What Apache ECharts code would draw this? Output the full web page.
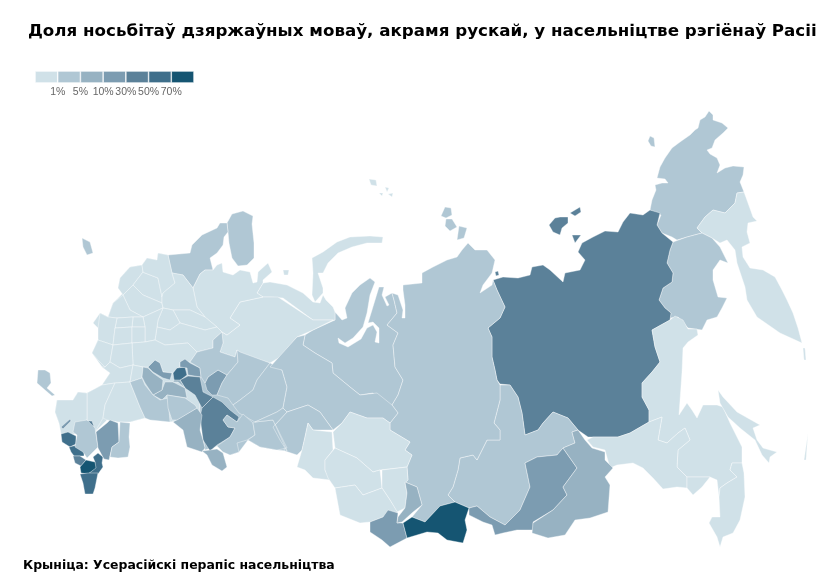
<!DOCTYPE html>
<html>
<head>
<meta charset="utf-8">
<style>html,body{margin:0;background:#fff}#chart{width:840px;height:587px}</style>
<script src="https://cdn.jsdelivr.net/npm/echarts@6/dist/echarts.min.js"></script>
</head>
<body>
<div id="chart"></div>
<script>
const titleText = 'Доля носьбітаў дзяржаўных моваў, акрамя рускай, у насельніцтве рэгіёнаў Расіі';
const sourceText = 'Крыніца: Усерасійскі перапіс насельніцтва';
const legendLabels = ['1%', '5%', '10%', '30%', '50%', '70%'];
const classLimits = [1, 5, 10, 30, 50, 70];
const classColors = ['#d0e1e8', '#b0c7d4', '#97b2c2', '#7c9cb1', '#5b8199', '#3f6f8b', '#155572'];

const regionNames = [
  'Еўрапейская частка', 'Урал', 'Чукотка', 'Востраў Урангеля', 'Камчатка', 'Магадан', 'Якуція', 'Хабараўск', 'Амур', 'Яўрэйская АВ',
  'Прымор\'е', 'Сахалін', 'Курылы', 'Іркуцк', 'Бурація', 'Забайкалле', 'Ямал', 'Краснаярск', 'Паўночная Зямля', 'Новая Зямля',
  'Зямля Франца-Іосіфа', 'Калгуеў', 'Мурманск', 'Карэлія', 'Ненцы', 'Комі', 'Архангельск', 'Ленінград', 'Ноўгарад', 'Пскоў',
  'Цвер', 'Смаленск', 'Волагда', 'Кастрама', 'Яраслаўль', 'Уладзімір', 'Масква', 'Калуга', 'Браянск', 'Арол',
  'Курск', 'Тула', 'Разань', 'Варонеж', 'Белгарад', 'Тамбоў', 'Тамбоў 2', 'Ліпецк', 'Растоў', 'Мардовія',
  'Чувашыя', 'Марый Эл', 'Татарстан', 'Удмуртыя', 'Башкартастан', 'Кіраў', 'Перм', 'Свярдлоўск', 'ХМАА', 'Цюмень',
  'Омск', 'Томск', 'Новасібірск', 'Кемерава', 'Алтайскі край', 'Рэспубліка Алтай', 'Хакасія', 'Тыва', 'Ульянаўск', 'Пенза',
  'Саратаў', 'Арэнбург', 'Чэлябінск', 'Курган', 'Краснадарскі край', 'Карачаева-Чаркесія', 'Валгаград', 'Астрахань', 'Самара', 'Самарская лука',
  'Адыгея', 'Крым', 'Кабардзіна-Балкарыя', 'Стаўрапаль', 'Паўночная Асеція', 'Інгушэція', 'Чачня', 'Дагестан', 'Калмыкія', 'Ніжняя Волга',
  'Азоўскі бераг', 'Калінінград'
];
const regionValues = [
  0.3, 2, 3, 3, 0.7, 2, 38, 0.5, 0.4, 0.3,
  0.4, 0.7, 0.7, 3, 22, 8, 3, 3, 3, 0.5,
  0.5, 0.5, 3, 3, 0.8, 0.8, 0.5, 0.3, 0.3, 0.3,
  0.4, 0.3, 0.3, 0.3, 0.3, 0.3, 0.3, 0.3, 0.3, 0.3,
  0.3, 0.3, 0.3, 0.3, 0.3, 0.3, 0.3, 0.3, 0.3, 25,
  55, 25, 45, 28, 40, 3, 3, 3, 3, 3,
  0.8, 0.7, 0.5, 0.5, 0.6, 25, 7, 75, 8, 8,
  3, 3, 3, 3, 0.4, 60, 8, 8, 3, 8,
  40, 3, 60, 3, 40, 60, 90, 60, 25, 3,
  25, 3
];

// region outlines, x y pairs per ring, ' | ' between rings
const regionOutlines = {
  'Еўрапейская частка': '168 255 158 253 157 260 147 258 142 265 130 267 120 278 118 288 123 293 113 303 108 317 100 313 93 323 98 328 98 340 92 353 102 367 110 373 102 385 87 393 78 392 73 400 57 400 55 412 59 423 62 428 75 430 87 420 95 432 107 420 130 422 145 418 170 422 200 417 200 350 222 332 193 288 183 275',
  'Урал': '200 350 222 332 237 350 270 363 282 370 287 387 283 408 287 412 273 427 287 451 277 450 260 447 248 440 239 452 230 455 217 446 205 450 200 417',
  'Чукотка': '709 111 713 115 713 120 722 123 728 128 723 133 715 140 712 148 707 150 710 154 717 158 720 165 717 173 725 168 733 166 744 167 743 175 740 182 744 192 737 193 735 203 725 213 713 210 705 217 697 228 702 233 687 237 677 240 672 237 662 233 657 225 661 215 650 210 652 200 656 190 655 185 662 183 668 183 665 179 657 178 660 167 665 158 672 148 680 142 690 135 695 130 698 128 700 120 705 117',
  'Востраў Урангеля': '650 136 654 138 655 147 651 146 648 141',
  'Камчатка': '697 228 705 217 713 210 725 213 735 203 737 193 744 192 748 203 753 217 757 221 748 223 747 232 750 243 742 247 743 257 750 268 763 270 775 277 782 290 787 300 793 313 798 328 802 343 780 333 757 317 747 300 745 287 737 263 735 250 727 240 720 243 712 238 702 233',
  'Магадан': '673 242 687 237 702 233 712 238 720 247 728 263 720 260 713 270 713 280 718 297 727 298 722 308 717 317 707 320 702 330 688 328 678 317 670 318 671 313 665 308 659 300 663 288 672 282 673 273 667 263 670 250',
  'Якуція': '650 210 660 213 657 225 662 233 673 242 670 250 667 263 673 273 672 282 663 288 659 300 665 308 671 313 670 320 652 330 655 347 660 362 652 372 642 383 642 397 649 410 649 422 630 433 618 437 588 437 578 430 568 418 553 412 543 423 538 430 525 435 522 413 518 397 510 385 500 384 497 380 495 370 492 357 492 337 488 328 500 318 505 307 497 290 493 280 503 277 518 278 530 275 532 267 543 265 550 270 563 282 565 273 580 270 585 260 578 252 582 243 593 237 605 231 618 232 623 222 630 213 643 215 | 549 225 555 218 560 217 568 217 568 223 562 228 560 235 553 232 | 570 213 580 207 581 212 575 216 | 572 235 581 235 575 243 | 495 272 498 271 499 275 496 276',
  'Хабараўск': '670 320 675 316 683 320 688 329 697 329 698 335 688 342 683 348 682 372 679 415 687 403 692 410 697 418 703 405 717 405 723 407 730 423 742 447 742 463 732 463 730 470 737 477 727 483 720 488 719 497 717 480 710 477 687 477 677 467 678 450 690 440 685 428 678 433 667 443 658 440 662 417 649 422 649 410 642 397 642 383 652 372 660 362 655 347 652 330',
  'Амур': '593 437 618 437 630 433 649 422 662 417 658 440 667 443 678 433 685 428 690 440 678 450 677 467 687 477 687 488 677 487 663 489 653 478 643 468 633 463 617 465 610 468 605 450 593 447 587 440',
  'Яўрэйская АВ': '687 477 710 477 702 487 693 495 687 488',
  'Прымор\'е': '719 497 720 488 727 483 737 477 730 470 732 463 742 463 744 473 745 497 740 520 733 533 723 537 720 547 717 537 709 523 712 517 720 517',
  'Сахалін': '718 390 723 397 737 412 760 425 753 428 757 440 763 448 777 452 770 457 769 463 762 455 755 440 740 428 728 417 720 403',
  'Курылы': '803 348 805 348 806 360 804 360 | 808 433 809 433 806 460 804 460',
  'Іркуцк': '500 385 510 385 518 397 522 413 525 435 538 430 543 423 553 412 568 418 578 430 572 432 575 443 563 448 557 455 537 457 525 463 530 487 520 510 505 525 490 517 477 506 469 508 455 502 448 495 453 487 458 470 460 458 473 455 477 460 487 440 500 440 500 430 494 423 500 400',
  'Бурація': '525 463 537 457 557 455 563 448 577 468 563 487 567 495 553 510 533 522 533 530 517 530 503 533 495 535 492 525 483 522 469 515 469 508 477 506 490 517 505 525 520 510 530 487',
  'Забайкалле': '572 432 578 430 585 440 592 448 605 452 605 460 613 468 605 477 610 485 608 512 590 518 575 520 565 535 548 538 532 533 533 523 553 510 567 495 563 487 577 468 563 448 575 443',
  'Ямал': '335 312 342 320 347 318 345 308 352 293 360 285 370 278 375 282 370 295 367 313 363 327 353 338 345 343 338 338 339 343 348 347 361 339 367 328 373 325 377 332 375 342 379 343 379 328 373 322 368 323 372 310 379 287 384 287 382 295 387 306 389 305 385 297 392 293 394 300 397 313 387 325 398 333 393 345 395 367 403 380 398 395 392 405 398 413 383 403 373 393 360 395 350 387 333 373 332 363 315 353 303 345 305 335 313 330 335 320',
  'Краснаярск': '394 300 392 293 398 295 403 310 402 318 405 318 405 305 403 290 403 285 422 283 422 273 433 267 447 260 457 257 462 250 468 243 475 250 487 250 495 260 492 273 483 285 480 293 492 285 493 280 497 290 505 307 500 318 488 328 492 337 492 357 495 370 497 380 500 385 500 400 494 423 500 430 500 440 487 440 477 460 473 455 460 458 458 470 453 487 448 495 455 502 440 506 425 522 412 517 422 505 417 487 405 482 408 480 407 467 412 455 405 450 410 442 390 430 390 423 398 413 392 405 398 395 403 380 395 367 393 345 398 333 387 325 397 313',
  'Паўночная Зямля': '445 207 451 208 452 215 446 218 441 216 | 446 219 452 219 457 227 450 231 445 226 | 459 226 467 228 464 238 457 240',
  'Новая Зямля': '312 258 323 252 337 242 350 237 370 236 383 237 382 243 367 243 352 247 338 253 328 263 323 273 318 273 323 288 323 293 315 302 312 295 313 273',
  'Зямля Франца-Іосіфа': '369 179 376 180 377 186 371 185 | 385 187 389 188 387 192 | 388 194 393 193 392 197 | 379 193 383 193 382 196',
  'Калгуеў': '283 270 289 270 288 275 284 275',
  'Мурманск': '227 223 232 214 243 211 253 216 252 224 254 243 254 258 247 265 238 266 232 258 229 243 228 232',
  'Карэлія': '168 255 190 253 192 245 202 235 217 228 220 223 227 223 228 232 224 237 223 245 217 253 210 258 213 270 205 270 200 274 193 288 183 275 172 273',
  'Ненцы': '263 283 270 282 287 285 297 290 303 293 313 302 320 303 323 295 326 300 333 307 335 312 335 320 313 320 283 298 270 297 263 297 257 293',
  'Комі': '240 302 263 297 278 297 313 320 333 320 313 330 297 337 280 357 270 363 243 355 237 350 235 357 220 352 223 343 222 332 227 335 240 325 230 318',
  'Архангельск': '193 288 200 274 205 270 213 270 217 265 222 263 223 272 233 275 240 270 250 272 253 283 257 282 258 272 268 263 272 272 263 280 263 283 257 293 263 297 240 302 230 318 240 325 227 335 222 332 217 327 205 317 197 307',
  'Ленінград': '120 278 130 267 142 265 143 272 133 285 123 295 118 288',
  'Ноўгарад': '133 285 143 272 145 273 158 278 162 297 162 303 143 295',
  'Пскоў': '123 295 133 285 143 295 162 303 163 308 143 317 130 310',
  'Цвер': '142 265 147 258 157 260 158 253 168 255 172 273 175 283 163 293 162 297 158 278 145 273 143 272',
  'Смаленск': '108 317 113 303 123 295 130 310 143 317 133 317 117 318',
  'Волагда': '163 293 175 283 172 273 183 275 193 288 197 307 205 317 190 310 173 310 163 308 162 303 162 297',
  'Кастрама': '173 310 190 310 205 317 217 327 205 330 180 323',
  'Яраслаўль': '163 308 173 310 180 323 170 330 157 327 158 320',
  'Уладзімір': '157 327 170 330 180 323 205 330 217 327 222 332 213 340 213 348 197 352 188 343 165 345 155 340',
  'Масква': '143 317 163 308 158 320 157 327 155 340 145 342 145 327',
  'Калуга': '133 317 143 317 145 327 132 327',
  'Браянск': '117 318 133 317 132 327 115 328',
  'Арол': '98 328 100 313 108 317 117 318 115 328 113 345 98 340',
  'Курск': '115 328 132 327 132 343 113 345',
  'Тула': '132 327 145 327 145 342 132 343',
  'Разань': '145 342 155 340 165 345 188 343 197 352 190 362 180 362 180 367 177 368 173 373 163 372 160 363 155 360 148 367 143 367 133 365 132 343',
  'Варонеж': '92 353 98 340 113 345 110 362 105 367 98 360',
  'Белгарад': '113 345 132 343 133 365 120 368 110 362',
  'Тамбоў': '102 385 110 373 102 367 105 367 110 362 120 368 133 365 130 382 115 383',
  'Тамбоў 2': '133 365 143 367 142 378 130 382',
  'Ліпецк': '87 393 102 385 115 383 105 405 103 418 95 432 87 420',
  'Растоў': '115 383 130 382 140 407 145 418 130 422 118 422 107 420 103 418 105 405',
  'Мардовія': '148 367 155 360 160 363 163 372 172 373 170 380 163 378 153 372',
  'Чувашыя': '173 373 177 368 185 367 187 375 178 382 174 380',
  'Марый Эл': '180 362 185 359 190 363 200 368 201 377 188 375 187 368 180 367',
  'Татарстан': '180 380 188 376 200 377 203 392 213 397 202 408 195 395 185 388',
  'Удмуртыя': '205 383 208 377 218 370 227 375 222 383 217 395 212 395 207 390',
  'Башкартастан': '202 408 213 397 222 402 230 410 239 417 237 422 227 415 223 420 228 427 235 428 230 437 217 445 210 451 203 440 200 417',
  'Кіраў': '190 362 197 352 213 348 213 340 222 332 223 343 220 352 235 357 237 350 238 362 227 375 218 370 208 377 205 383 201 377 200 368',
  'Перм': '237 350 240 352 270 363 257 380 253 390 240 400 233 405 228 398 217 395 222 383 227 375 238 362',
  'Свярдлоўск': '270 363 282 370 287 387 283 408 277 412 255 422 239 413 233 405 240 400 253 390 257 380',
  'ХМАА': '270 367 297 337 305 335 303 345 315 353 332 363 333 373 350 387 360 395 377 393 392 405 398 413 390 423 383 418 367 418 350 412 342 423 333 430 320 412 308 405 287 412 283 408 287 387 282 370',
  'Цюмень': '273 427 287 412 308 405 320 412 333 430 313 430 308 423 305 437 302 450 297 455 285 451 280 440',
  'Омск': '308 423 313 430 332 432 333 450 325 460 325 470 330 480 313 478 305 470 297 467 302 450 305 437',
  'Томск': '350 412 367 418 383 418 390 423 390 430 410 442 405 450 412 455 407 467 380 470 373 472 357 458 335 448 333 432 342 423',
  'Новасібірск': '335 448 357 458 373 472 380 470 382 488 363 495 355 485 335 488 328 478 325 470 325 460',
  'Кемерава': '382 470 407 467 408 480 405 483 407 493 405 508 397 512 390 500 382 488',
  'Алтайскі край': '335 488 355 485 363 495 382 488 390 500 398 513 388 512 383 517 370 522 360 523 340 515',
  'Рэспубліка Алтай': '370 522 383 517 388 510 398 513 397 523 403 523 407 538 390 547 382 540 370 532',
  'Хакасія': '405 482 417 487 422 505 413 512 402 522 397 523 398 517 405 508 407 493',
  'Тыва': '403 523 412 517 425 522 440 506 455 502 469 508 465 520 467 530 463 543 447 540 438 533 427 532 407 538',
  'Ульянаўск': '153 395 162 390 165 382 173 382 185 388 187 398 167 395 162 400',
  'Пенза': '143 367 148 368 153 373 163 380 162 390 153 395 145 383 142 377',
  'Саратаў': '130 382 142 378 145 385 153 395 160 400 168 398 170 422 150 420 145 418 140 407',
  'Арэнбург': '227 415 237 422 243 414 253 423 255 435 247 440 237 443 239 452 230 455 223 452 217 446 230 437 235 428 228 427 223 420',
  'Чэлябінск': '255 422 273 420 287 448 277 450 260 447 248 440 255 435 253 423',
  'Курган': '255 422 277 412 283 408 287 412 273 427 280 440 287 451 273 420',
  'Краснадарскі край': '57 400 73 400 78 392 87 393 87 420 77 424 76 434 61 434 59 423 55 412',
  'Карачаева-Чаркесія': '61 434 68 432 76 436 76 444 70 447 62 442',
  'Валгаград': '173 422 197 408 202 415 200 430 203 440 205 448 202 452 187 447 183 430',
  'Астрахань': '202 451 210 450 217 449 223 453 227 467 222 471 212 465 207 455',
  'Самара': '167 395 185 398 195 405 197 408 177 420 172 420 168 408',
  'Самарская лука': '173 382 178 382 185 388 180 380 174 380',
  'Адыгея': '86 421 92 421 94 427 90 426',
  'Крым': '38 370 45 370 50 373 51 383 47 388 55 395 52 396 45 390 37 383',
  'Кабардзіна-Балкарыя': '69 447 77 445 84 452 84 456 74 456 71 452',
  'Стаўрапаль': '75 422 87 420 95 428 98 447 93 452 87 458 83 452 75 447 77 435 73 432',
  'Паўночная Асеція': '73 456 80 456 86 460 81 466 75 463',
  'Інгушэція': '93 457 98 453 103 457 102 463 103 467 98 474 88 474 95 468 95 462',
  'Чачня': '80 467 86 460 95 462 96 468 88 474 81 473',
  'Дагестан': '80 474 88 473 98 473 95 488 93 494 85 494 83 483',
  'Калмыкія': '96 432 107 423 110 420 118 423 119 442 112 447 109 460 104 459 98 448',
  'Ніжняя Волга': '120 422 130 423 129 437 130 447 128 457 118 458 110 457 112 447 119 442',
  'Азоўскі бераг': '61 427 70 419 71 421 63 429',
  'Калінінград': '82 238 90 242 93 253 87 255 83 247'
};

function outlinesToGeo() {
  return {
    type: 'FeatureCollection',
    features: regionNames.map(name => ({
      type: 'Feature',
      properties: { name: name },
      geometry: {
        type: 'MultiPolygon',
        coordinates: regionOutlines[name].split(' | ').map(ring => {
          const nums = ring.trim().split(/\s+/).map(Number);
          const pts = [];
          for (let i = 0; i < nums.length; i += 2) pts.push([nums[i], -nums[i + 1]]);
          pts.push(pts[0]);
          return [pts];
        })
      }
    }))
  };
}

echarts.registerMap('regions', outlinesToGeo());

const classPieces = classColors.map((color, i) => ({
  gte: i === 0 ? 0 : classLimits[i - 1],
  lt: i === classLimits.length ? 101 : classLimits[i],
  color: color
}));

const legendSeries = classColors.map(color => ({
  type: 'bar',
  stack: 'legend',
  data: [1],
  barWidth: 12,
  silent: true,
  itemStyle: { color: color, borderColor: '#fff', borderWidth: 0.6 }
}));

const myChart = echarts.init(document.getElementById('chart'));
myChart.setOption({
  animation: false,
  backgroundColor: '#fff',
  title: [
    { text: titleText, left: 23, top: 18, textStyle: { fontFamily: 'DejaVu Sans', fontWeight: 'bold', fontSize: 16.7, color: '#000' } },
    { text: sourceText, left: 18, top: 555, textStyle: { fontFamily: 'DejaVu Sans', fontWeight: 'bold', fontSize: 12.45, color: '#000' } }
  ],
  grid: { left: 35, top: 71, width: 159, height: 12 },
  xAxis: {
    type: 'value', min: 0, max: 7, interval: 1,
    axisLine: { show: false }, axisTick: { show: false }, splitLine: { show: false },
    axisLabel: {
      margin: 4, fontFamily: 'Liberation Sans', fontSize: 10.5, color: '#666',
      formatter: v => legendLabels[v - 1] || ''
    }
  },
  yAxis: { type: 'category', data: [''], show: false },
  visualMap: { type: 'piecewise', show: false, seriesIndex: legendSeries.length, pieces: classPieces },
  series: legendSeries.concat([{
    type: 'map',
    map: 'regions',
    left: 0, top: 0, width: 840, height: 587,
    aspectScale: 1,
    boundingCoords: [[0, 0], [840, -587]],
    silent: true,
    label: { show: false },
    itemStyle: { borderColor: 'rgba(255,255,255,0.55)', borderWidth: 0.7 },
    data: regionNames.map((name, i) => ({ name: name, value: regionValues[i] }))
  }])
});
</script>
</body>
</html>
